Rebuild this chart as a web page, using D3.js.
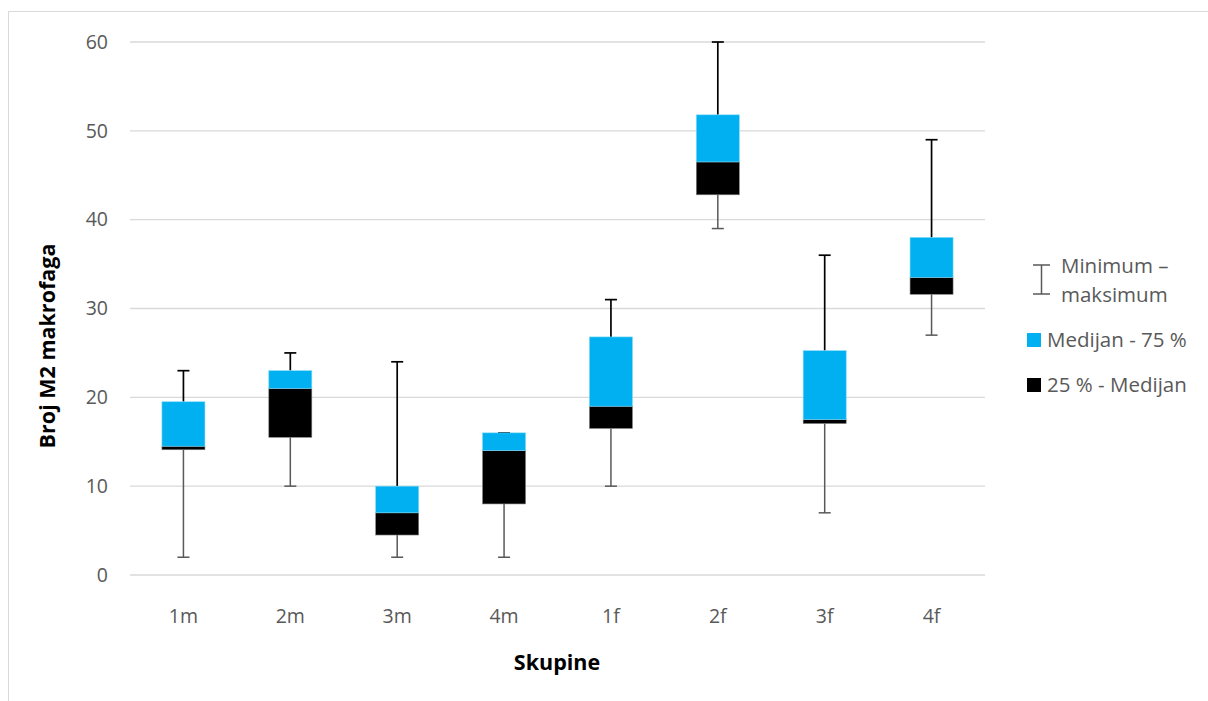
<!DOCTYPE html>
<html><head><meta charset="utf-8">
<script src="https://cdn.jsdelivr.net/npm/d3@7"></script>
<style>body{margin:0;background:#fff;}svg{display:block;}</style>
</head><body>
<svg id="c" width="1208" height="701"></svg>
<script>
const categories = ["1m","2m","3m","4m","1f","2f","3f","4f"];
const minValues    = [2, 10, 2, 2, 10, 39, 7, 27];
const q1Values     = [14.1, 15.5, 4.5, 8, 16.5, 42.8, 17.05, 31.6];
const medianValues = [14.5, 21, 7, 14, 19, 46.5, 17.5, 33.5];
const q3Values     = [19.5, 23, 10, 16, 26.8, 51.8, 25.25, 38];
const maxValues    = [23, 25, 24, 16, 31, 60, 36, 49];
const yTicks = [0,10,20,30,40,50,60];
const legendLabels = ["Minimum –","maksimum","Medijan - 75 %","25 % - Medijan"];

const svg = d3.select("#c");
const font = "'Open Sans', 'Noto Sans', sans-serif";
const grey = "#595959";

// frame
svg.append("rect").attr("x",8.5).attr("y",11.5).attr("width",1230).attr("height",720)
  .attr("fill","none").attr("stroke","#d9d9d9").attr("stroke-width",1);

const x = d3.scaleBand().domain(categories).range([130,985]).paddingInner(0).paddingOuter(0);
const y = d3.scaleLinear().domain([0,60]).range([575,42]);

// grid
svg.append("g").selectAll("line").data(yTicks).join("line")
  .attr("x1",130).attr("x2",985).attr("y1",d=>y(d)).attr("y2",d=>y(d))
  .attr("stroke","#d9d9d9").attr("stroke-width",1.3);

// y axis labels
const yAxis = svg.append("g").attr("transform","translate(108,0)")
  .call(d3.axisLeft(y).tickValues(yTicks).tickSize(0).tickPadding(0));
yAxis.select(".domain").remove();
yAxis.selectAll("text").attr("font-family",font).attr("font-size",19.5).attr("fill",grey);

// x axis labels
const xAxis = svg.append("g").attr("transform","translate(0,609)")
  .call(d3.axisBottom(x).tickSize(0).tickPadding(0));
xAxis.select(".domain").remove();
xAxis.selectAll("text").attr("font-family",font).attr("font-size",19.5).attr("fill",grey);

const data = categories.map((c,i)=>({c,min:minValues[i],q1:q1Values[i],med:medianValues[i],q3:q3Values[i],max:maxValues[i]}));
const bw = 43, capW = 12;
const g = svg.append("g");
const cx = d => x(d.c) + x.bandwidth()/2;

// lower whisker (grey)
g.selectAll(".lw").data(data).join("line")
  .attr("x1",cx).attr("x2",cx).attr("y1",d=>y(d.q1)).attr("y2",d=>y(d.min))
  .attr("stroke",grey).attr("stroke-width",1.5);
g.selectAll(".lc").data(data).join("line")
  .attr("x1",d=>cx(d)-capW/2).attr("x2",d=>cx(d)+capW/2).attr("y1",d=>y(d.min)).attr("y2",d=>y(d.min))
  .attr("stroke",grey).attr("stroke-width",1.5);
// upper whisker (black)
g.selectAll(".uw").data(data).join("line")
  .attr("x1",cx).attr("x2",cx).attr("y1",d=>y(d.q3)).attr("y2",d=>y(d.max))
  .attr("stroke","#000").attr("stroke-width",1.7);
g.selectAll(".uc").data(data).join("line")
  .attr("x1",d=>cx(d)-capW/2).attr("x2",d=>cx(d)+capW/2).attr("y1",d=>y(d.max)).attr("y2",d=>y(d.max))
  .attr("stroke","#000").attr("stroke-width",1.7);

// boxes
g.selectAll(".bl").data(data).join("rect")
  .attr("x",d=>cx(d)-bw/2).attr("width",bw)
  .attr("y",d=>y(d.med)).attr("height",d=>y(d.q1)-y(d.med))
  .attr("fill","#000").attr("stroke","#7f7f7f").attr("stroke-width",0.6);
g.selectAll(".bu").data(data).join("rect")
  .attr("x",d=>cx(d)-bw/2).attr("width",bw)
  .attr("y",d=>y(d.q3)).attr("height",d=>y(d.med)-y(d.q3))
  .attr("fill","#00b0f0").attr("stroke","#7fd7f7").attr("stroke-width",0.6);

// axis titles
svg.append("text").attr("x",557).attr("y",670).attr("text-anchor","middle")
  .attr("font-family",font).attr("font-weight","bold").attr("font-size",21.5).attr("fill","#000").text("Skupine");
svg.append("text").attr("transform","translate(55,346) rotate(-90)").attr("text-anchor","middle")
  .attr("font-family",font).attr("font-weight","bold").attr("font-size",21.5).attr("fill","#000").text("Broj M2 makrofaga");

// legend
const lg = svg.append("g");
lg.append("line").attr("x1",1041.5).attr("x2",1041.5).attr("y1",265).attr("y2",294).attr("stroke",grey).attr("stroke-width",1.5);
lg.append("line").attr("x1",1033).attr("x2",1050).attr("y1",265).attr("y2",265).attr("stroke",grey).attr("stroke-width",1.5);
lg.append("line").attr("x1",1033).attr("x2",1050).attr("y1",294).attr("y2",294).attr("stroke",grey).attr("stroke-width",1.5);
const lf = 20.5;
lg.append("text").attr("x",1061).attr("y",273).attr("font-family",font).attr("font-size",lf).attr("fill",grey).text(legendLabels[0]);
lg.append("text").attr("x",1061).attr("y",302).attr("font-family",font).attr("font-size",lf).attr("fill",grey).text(legendLabels[1]);
lg.append("rect").attr("x",1027).attr("y",333).attr("width",14).attr("height",14).attr("fill","#00b0f0");
lg.append("text").attr("x",1047).attr("y",347).attr("font-family",font).attr("font-size",lf).attr("fill",grey).text(legendLabels[2]);
lg.append("rect").attr("x",1027).attr("y",378).attr("width",14).attr("height",14).attr("fill","#000");
lg.append("text").attr("x",1047).attr("y",392).attr("font-family",font).attr("font-size",lf).attr("fill",grey).text(legendLabels[3]);
</script>
</body></html>
